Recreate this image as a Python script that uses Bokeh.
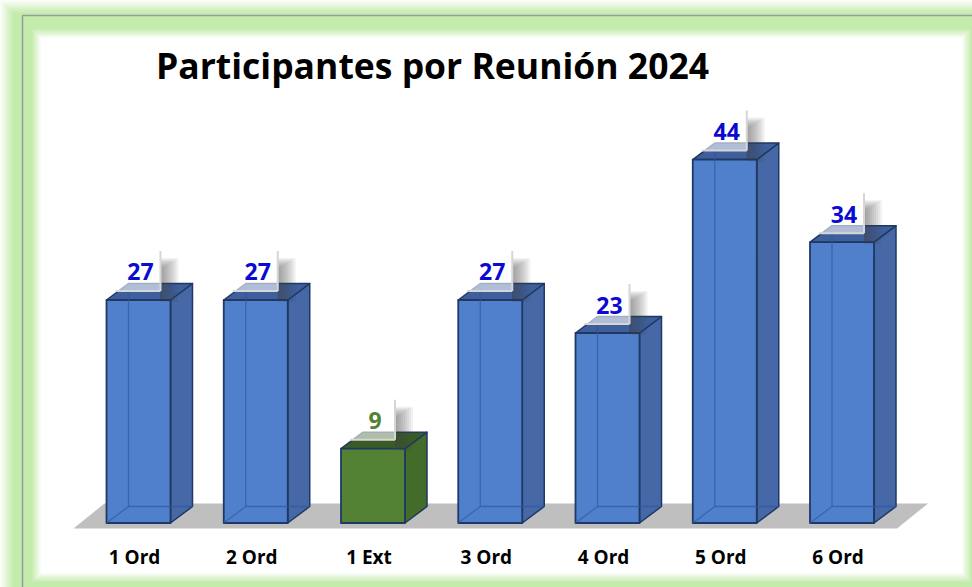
import numpy as np
from bokeh.plotting import figure
from bokeh.models import Range1d, ColumnDataSource, Label
from bokeh.core.properties import value
from bokeh.embed import file_html
from bokeh.resources import INLINE

# ---------------- data ----------------
categories = ["1 Ord", "2 Ord", "1 Ext", "3 Ord", "4 Ord", "5 Ord", "6 Ord"]
participants = [27, 27, 9, 27, 23, 44, 34]
extraordinary = [False, False, True, False, False, False, False]
title_text = "Participantes por Reunión 2024"

# ---------------- geometry / scales ----------------
W, H = 972, 587
PX_X = 117.25   # pixels per category step
PX_Y = 8.26     # pixels per participant
X_ORIGIN = 138.0
Y_ORIGIN = 522.5

x_start = -X_ORIGIN / PX_X
x_end = (W - X_ORIGIN) / PX_X
y_start = -(H - Y_ORIGIN) / PX_Y
y_end = Y_ORIGIN / PX_Y


def dx(px):
    return px / PX_X


def dy(py):
    return py / PX_Y


def X(px):
    return x_start + px / PX_X


def Y(py):
    return y_end - py / PX_Y


def mix(c1, c2, t):
    a = [int(c1[i:i + 2], 16) for i in (1, 3, 5)]
    b = [int(c2[i:i + 2], 16) for i in (1, 3, 5)]
    return "#%02x%02x%02x" % tuple(round(a[k] + (b[k] - a[k]) * t) for k in range(3))


p = figure(width=W, height=H, x_range=Range1d(x_start, x_end), y_range=Range1d(y_start, y_end),
           output_backend="svg", toolbar_location=None, min_border=0,
           x_axis_location=None, y_axis_location=None, title_location=None,
           outline_line_color=None, background_fill_color="white", border_fill_color="white")
p.grid.visible = False

FONT = "Open Sans"
GREEN = "#c3ebab"

# ---------------- frame decoration (green glow) ----------------
for k, inset in enumerate([0, 2, 4, 6, 8, 10, 12]):
    p.quad(left=X(inset), right=X(W + 60), top=Y(inset), bottom=Y(H + 60),
           fill_color=mix("#ffffff", GREEN, (k + 1) / 7), line_color=None)
p.quad(left=X(22), right=X(W + 60), top=Y(15), bottom=Y(H + 60),
       fill_color=None, line_color="#9a9a9a", line_width=1.5)
for k, e in enumerate([8, 6, 4, 2, 0]):
    p.quad(left=X(40 - e), right=X(962 + e), top=Y(37 - e), bottom=Y(573 + e),
           fill_color=mix(GREEN, "#ffffff", (k + 1) / 5), line_color=None)

# ---------------- floor ----------------
n = len(categories)
fy_front = -dy(5.5)
fy_back = fy_front + dy(25)
p.patch(x=[-dx(65), (n - 1) + dx(55), (n - 1) + dx(55) + dx(31), -dx(65) + dx(31)],
        y=[fy_front, fy_front, fy_back, fy_back],
        fill_color="#bfbfbf", line_color=None)

# ---------------- 3D bars ----------------
w = dx(64)
ddx = dx(22)
ddy = dy(16.5)
OUT = "#1f3864"

front_l, front_r, front_t, front_c = [], [], [], []
side_xs, side_ys, side_c = [], [], []
top_xs, top_ys, top_c = [], [], []
hid_xs, hid_ys = [], []
for i, (v, ext) in enumerate(zip(participants, extraordinary)):
    l, r = i - w / 2, i + w / 2
    front_l.append(l); front_r.append(r); front_t.append(v)
    front_c.append("#548235" if ext else "#5080cc")
    side_xs.append([r, r + ddx, r + ddx, r]); side_ys.append([0, ddy, v + ddy, v])
    side_c.append("#436b2a" if ext else "#4668a6")
    top_xs.append([l, l + ddx, r + ddx, r]); top_ys.append([v, v + ddy, v + ddy, v])
    top_c.append("#3a5c24" if ext else "#3e5e9c")
    if not ext:
        hid_xs.append([l + ddx, l + ddx]); hid_ys.append([v + ddy, ddy])
        hid_xs.append([l, l + ddx, r + ddx]); hid_ys.append([0, ddy, ddy])

p.patches(xs=side_xs, ys=side_ys, fill_color=side_c, line_color=OUT, line_width=1.5, line_join="round")
p.patches(xs=top_xs, ys=top_ys, fill_color=top_c, line_color=OUT, line_width=1.5, line_join="round")
p.quad(left=front_l, right=front_r, bottom=0, top=front_t, fill_color=front_c,
       line_color=OUT, line_width=1.8, line_join="round")
p.multi_line(xs=hid_xs, ys=hid_ys, line_color="#2f58a0", line_alpha=0.7, line_width=1.3)

# ---------------- data labels with box + shadow ----------------
xs_idx = np.arange(n)
vals = np.array(participants, dtype=float)
for k in range(9):
    wid = 18 - 2 * k
    p.quad(left=xs_idx + dx(22), right=xs_idx + dx(22 + wid),
           bottom=vals - dy(2 - k * 0.4), top=vals + dy(42 - k * 1.2),
           fill_color="#404040", fill_alpha=0.07, line_color=None)
p.quad(left=xs_idx - dx(23), right=xs_idx + dx(22), bottom=vals + dy(9), top=vals + dy(47),
       fill_color="white", fill_alpha=0.6, line_color=None)
p.segment(x0=xs_idx - dx(23), y0=vals + dy(9), x1=xs_idx + dx(22), y1=vals + dy(9),
          line_color="#d6d6d6", line_width=2)
p.segment(x0=xs_idx + dx(22), y0=vals + dy(9), x1=xs_idx + dx(22), y1=vals + dy(49),
          line_color="#d6d6d6", line_width=2)

lab_src = ColumnDataSource(dict(
    x=xs_idx + dx(2), y=vals + dy(28),
    txt=[str(v) for v in participants],
    col=["#538135" if e else "#0a0ad2" for e in extraordinary]))
p.text(x="x", y="y", text="txt", text_color="col", source=lab_src,
       text_font=value(FONT), text_font_style="bold", text_font_size="23px",
       text_align="center", text_baseline="middle")

# ---------------- category labels ----------------
cat_src = ColumnDataSource(dict(x=xs_idx - dx(4), y=[Y(556)] * n, txt=categories))
p.text(x="x", y="y", text="txt", source=cat_src, text_color="#000000",
       text_font=value(FONT), text_font_style="bold", text_font_size="19px",
       text_align="center", text_baseline="middle")

# ---------------- title ----------------
p.add_layout(Label(x=X(432), y=Y(64), text=title_text, text_font=FONT, text_font_style="bold",
                   text_font_size="35.5px", text_color="#000000",
                   text_align="center", text_baseline="middle"))

open("out.html", "w").write(file_html(p, INLINE))
